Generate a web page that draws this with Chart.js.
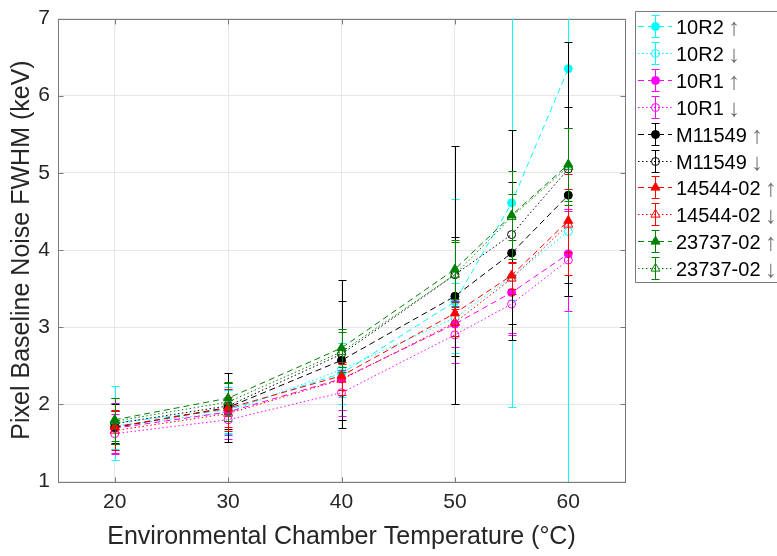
<!DOCTYPE html>
<html>
<head>
<meta charset="utf-8">
<script src="https://cdn.jsdelivr.net/npm/chart.js@4.4.1/dist/chart.umd.min.js"></script>
<style>
  html, body { margin: 0; padding: 0; background: #fff; }
  #wrap { width: 777px; height: 556px; }
</style>
</head>
<body>
<div id="wrap"><canvas id="myChart" width="777" height="556"></canvas></div>
<script>
// temperatures (°C) and tick values
const temps = [20, 30, 40, 50, 55, 60];
const xTicks = [20, 30, 40, 50, 60];

const seriesNames = ['10R2', '10R2', '10R1', '10R1', 'M11549', 'M11549', '14544-02', '14544-02', '23737-02', '23737-02'];
const arrows = ['↑', '↓', '↑', '↓', '↑', '↓', '↑', '↓', '↑', '↓'];
const colors = ['#00ffff', '#00ffff', '#ff00ff', '#ff00ff', '#000000', '#000000', '#ff0000', '#ff0000', '#008000', '#008000'];

// FWHM (keV) per sensor, heating (up) and cooling (down)
const r2Up = [1.76, 1.93, 2.40, 3.33, 4.61, 6.35];
const r2Down = [1.72, 1.90, 2.45, 3.12, 3.65, 4.24];
const r1Up = [1.69, 1.90, 2.33, 3.04, 3.45, 3.95];
const r1Down = [1.62, 1.80, 2.15, 2.90, 3.30, 3.87];
const mUp = [1.70, 1.96, 2.57, 3.40, 3.96, 4.71];
const mDown = [1.75, 1.98, 2.65, 3.68, 4.20, 5.05];
const s14544Up = [1.71, 1.95, 2.37, 3.18, 3.67, 4.38];
const s14544Down = [1.66, 1.88, 2.32, 3.06, 3.63, 4.33];
const s23737Up = [1.80, 2.08, 2.73, 3.75, 4.45, 5.11];
const s23737Down = [1.78, 2.03, 2.68, 3.68, 4.43, 5.08];

// error bar half-lengths
const r2UpErr = [0.48, 0.30, 0.40, 1.33, 2.65, 6.00];
const r2DownErr = [0.30, 0.28, 0.35, 0.45, 0.30, 0.84];
const r1UpErr = [0.33, 0.30, 0.40, 0.30, 0.55, 0.55];
const r1DownErr = [0.25, 0.25, 0.30, 0.37, 0.37, 0.66];
const mUpErr = [0.22, 0.45, 0.77, 0.77, 0.92, 1.14];
const mDownErr = [0.25, 0.30, 0.96, 1.67, 1.36, 1.64];
const s14544UpErr = [0.22, 0.25, 0.18, 0.15, 0.18, 0.41];
const s14544DownErr = [0.25, 0.22, 0.20, 0.18, 0.20, 0.66];
const s23737UpErr = [0.28, 0.21, 0.25, 0.38, 0.57, 0.47];
const s23737DownErr = [0.30, 0.25, 0.26, 0.42, 0.30, 0.50];

const values = [r2Up, r2Down, r1Up, r1Down, mUp, mDown, s14544Up, s14544Down, s23737Up, s23737Down];
const errors = [r2UpErr, r2DownErr, r1UpErr, r1DownErr, mUpErr, mDownErr, s14544UpErr, s14544DownErr, s23737UpErr, s23737DownErr];

const FONT = "'Liberation Sans', Arial, sans-serif";
const AXIS_GRAY = '#7a7a7a';

const datasets = values.map(function (vals, i) {
  const up = i % 2 === 0;
  const tri = i >= 6;
  return {
    label: seriesNames[i] + ' ' + arrows[i],
    data: vals.map((v, k) => ({ x: temps[k], y: v })),
    borderColor: colors[i],
    borderWidth: 1,
    borderDash: up ? [6, 4] : [1.5, 2.5],
    pointStyle: tri ? 'triangle' : 'circle',
    pointRadius: tri ? 5.2 : 4,
    pointBorderWidth: 1,
    pointBorderColor: colors[i],
    pointBackgroundColor: up ? colors[i] : 'rgba(0,0,0,0)',
    fill: false,
    tension: 0,
    order: -i
  };
});

// vertical error bars, drawn under each series' own line
const errorBars = {
  id: 'errorBars',
  beforeDatasetDraw(chart, args) {
    const i = args.index;
    const ctx = chart.ctx, a = chart.chartArea;
    const xs = chart.scales.x, ys = chart.scales.y;
    ctx.save();
    ctx.beginPath();
    ctx.rect(a.left, a.top, a.right - a.left, a.bottom - a.top);
    ctx.clip();
    ctx.strokeStyle = colors[i];
    ctx.lineWidth = 1;
    ctx.setLineDash([]);
    values[i].forEach(function (v, k) {
      const px = Math.round(xs.getPixelForValue(temps[k])) + 0.5;
      const yTop = Math.round(ys.getPixelForValue(v + errors[i][k])) + 0.5;
      const yBot = Math.round(ys.getPixelForValue(v - errors[i][k])) + 0.5;
      ctx.beginPath();
      ctx.moveTo(px, yTop); ctx.lineTo(px, yBot);
      ctx.moveTo(px - 4, yTop); ctx.lineTo(px + 4, yTop);
      ctx.moveTo(px - 4, yBot); ctx.lineTo(px + 4, yBot);
      ctx.stroke();
    });
    ctx.restore();
  }
};

// box round the axes with inward ticks
const axisBox = {
  id: 'axisBox',
  beforeDatasetsDraw(chart) {
    const ctx = chart.ctx, a = chart.chartArea;
    const xs = chart.scales.x, ys = chart.scales.y;
    const L = Math.round(a.left) + 0.5, R = Math.round(a.right) + 0.5;
    const T = Math.round(a.top) + 0.5, B = Math.round(a.bottom) + 0.5;
    ctx.save();
    ctx.strokeStyle = AXIS_GRAY;
    ctx.lineWidth = 1;
    ctx.strokeRect(L, T, R - L, B - T);
    ctx.beginPath();
    xTicks.forEach(function (t) {
      const px = Math.round(xs.getPixelForValue(t)) + 0.5;
      ctx.moveTo(px, B); ctx.lineTo(px, B - 5);
      ctx.moveTo(px, T); ctx.lineTo(px, T + 5);
    });
    ys.ticks.forEach(function (t) {
      const py = Math.round(ys.getPixelForValue(t.value)) + 0.5;
      ctx.moveTo(L, py); ctx.lineTo(L + 5, py);
      ctx.moveTo(R, py); ctx.lineTo(R - 5, py);
    });
    ctx.stroke();
    ctx.restore();
  }
};

// boxed legend to the right of the axes
const boxLegend = {
  id: 'boxLegend',
  afterDraw(chart) {
    const ctx = chart.ctx;
    ctx.save();
    ctx.fillStyle = '#ffffff';
    ctx.strokeStyle = AXIS_GRAY;
    ctx.lineWidth = 1;
    ctx.fillRect(635.5, 11.5, 200, 271);
    ctx.beginPath();
    ctx.moveTo(800, 11.5); ctx.lineTo(635.5, 11.5); ctx.lineTo(635.5, 282.5); ctx.lineTo(800, 282.5);
    ctx.stroke();
    chart.data.datasets.forEach(function (ds, i) {
      const y = Math.round(26 + i * 26.9) + 0.5;
      ctx.strokeStyle = colors[i];
      ctx.lineWidth = 1;
      ctx.setLineDash(ds.borderDash);
      ctx.beginPath(); ctx.moveTo(638, y); ctx.lineTo(672, y); ctx.stroke();
      ctx.setLineDash([]);
      ctx.beginPath();
      ctx.moveTo(655.5, y - 11); ctx.lineTo(655.5, y + 11);
      ctx.moveTo(651.5, y - 11); ctx.lineTo(659.5, y - 11);
      ctx.moveTo(651.5, y + 11); ctx.lineTo(659.5, y + 11);
      ctx.stroke();
      ctx.fillStyle = ds.pointBackgroundColor;
      Chart.helpers.drawPoint(ctx, { pointStyle: ds.pointStyle, radius: ds.pointRadius, rotation: 0, borderWidth: 1 }, 655.5, y);
      ctx.font = '20px ' + FONT;
      ctx.textBaseline = 'alphabetic';
      ctx.fillStyle = '#000000';
      ctx.fillText(seriesNames[i], 676, y + 7);
      const w = ctx.measureText(seriesNames[i] + ' ').width;
      ctx.font = '24px ' + FONT;
      ctx.fillStyle = '#6e6e6e';
      ctx.fillText(arrows[i], 675 + w, y + 8);
    });
    ctx.restore();
  }
};

const config = {
  type: 'line',
  data: { datasets: datasets },
  options: {
    responsive: false,
    animation: false,
    events: [],
    layout: { padding: { left: 0, right: 152, top: 10.5, bottom: 0 } },
    plugins: { legend: { display: false }, tooltip: { enabled: false } },
    scales: {
      x: {
        type: 'linear',
        min: 15,
        max: 65,
        afterBuildTicks: function (s) { s.ticks = xTicks.map(v => ({ value: v })); },
        afterFit: function (s) { s.height = 74.5; },
        grid: { color: '#e6e6e6', drawTicks: false },
        border: { display: false },
        ticks: { color: '#262626', font: { size: 21, family: FONT, lineHeight: 1 }, padding: 10, maxRotation: 0 },
        title: {
          display: true,
          text: 'Environmental Chamber Temperature (°C)',
          color: '#262626',
          font: { size: 25, family: FONT },
          padding: { top: 0, bottom: 4 }
        }
      },
      y: {
        type: 'linear',
        min: 1,
        max: 7,
        ticks: { stepSize: 1, color: '#262626', font: { size: 21, family: FONT, lineHeight: 1 }, padding: 8 },
        afterFit: function (s) { s.width = 58; },
        grid: { color: '#e6e6e6', drawTicks: false },
        border: { display: false },
        title: {
          display: true,
          text: 'Pixel Baseline Noise FWHM (keV)',
          color: '#262626',
          font: { size: 25, family: FONT },
          padding: { top: 7, bottom: 0 }
        }
      }
    }
  },
  plugins: [errorBars, axisBox, boxLegend]
};

var myChart = new Chart(document.getElementById('myChart'), config);
</script>
</body>
</html>
